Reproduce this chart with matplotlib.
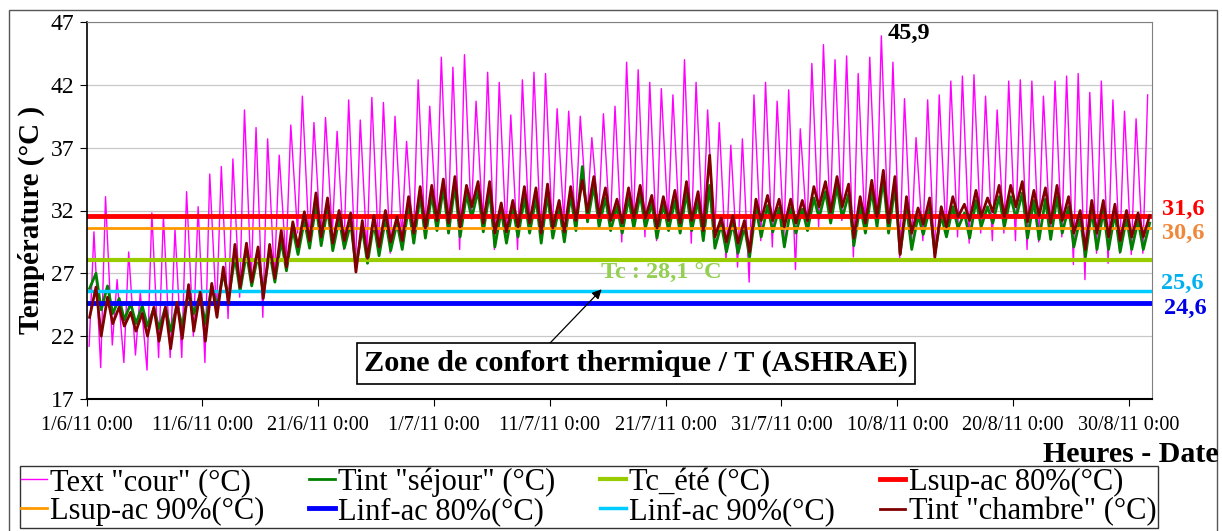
import numpy as np
import matplotlib
matplotlib.use('Agg')
import matplotlib.pyplot as plt
from matplotlib.patches import Rectangle

plt.rcParams['font.family'] = ['Liberation Serif', 'DejaVu Serif']

# daily extremes, one value per day from 1/6/11 to 1/9/11
text_cour_min = [21.2, 19.5, 21.3, 19.9, 20.5, 19.3, 20.3, 20.3, 20.3, 22.0, 19.9, 23.8,
                 23.4, 25.1, 26.5, 23.5, 26.7, 28.0, 30.2, 29.4, 29.6, 30.2, 28.9,
                 27.5, 28.6, 28.9, 28.6, 29.9, 29.4, 30.2, 31.0, 30.2, 28.9, 31.5, 31.0,
                 28.9, 30.2, 28.9, 30.7, 29.9, 30.4, 31.2, 31.0, 31.5, 31.4, 30.4,
                 29.5, 30.7, 29.9, 29.6, 31.0, 30.2, 29.4, 30.2, 29.4, 28.0, 27.5, 26.3,
                 29.6, 29.1, 29.9, 27.3, 30.4, 30.7, 31.2, 31.2, 28.3, 30.7, 31.2,
                 30.7, 28.2, 29.1, 29.6, 28.2, 30.2, 29.9, 29.4, 30.2, 29.6, 30.2, 29.6,
                 28.9, 29.5, 29.9, 29.9, 27.7, 26.5, 28.6, 27.8, 28.6, 28.5, 28.6]
text_cour_max = [30.3, 33.1, 26.5, 28.7, 25.5, 31.8, 31.6, 30.5, 33.5, 32.3, 34.9, 35.5,
                 36.1, 40.0, 38.6, 37.7, 36.4, 38.8, 41.1, 39.0, 39.4, 38.3, 40.8,
                 39.2, 41.0, 40.6, 39.5, 37.5, 42.4, 40.3, 44.2, 43.4, 44.4, 40.7, 43.0,
                 42.2, 39.6, 42.4, 43.0, 42.9, 40.1, 39.9, 39.5, 37.8, 39.7, 40.3,
                 43.8, 43.2, 42.2, 41.7, 41.2, 44.0, 42.2, 40.0, 39.0, 37.2, 37.7, 41.2,
                 42.2, 40.7, 41.6, 38.5, 43.7, 45.2, 44.0, 44.3, 42.9, 44.2, 45.9,
                 43.8, 40.9, 37.8, 40.8, 41.2, 42.3, 42.7, 42.8, 41.1, 40.0, 42.3, 42.4,
                 42.3, 41.1, 42.3, 42.7, 42.9, 41.4, 42.3, 40.8, 39.9, 39.3, 41.2]

sejour_min = [25.8, 24.1, 23.8, 23.3, 23.0, 22.8, 22.6, 22.4, 22.8, 23.8, 23.0, 24.3,
              25.0, 25.6, 26.0, 25.4, 26.3, 27.2, 28.5, 29.0, 29.2, 28.8, 29.0,
              27.5, 27.8, 28.4, 28.8, 28.9, 29.4, 29.8, 30.4, 30.2, 29.9, 31.4, 30.3,
              29.1, 29.4, 29.9, 30.2, 29.4, 29.8, 29.5, 30.4, 31.1, 30.7, 30.4,
              30.2, 30.6, 30.6, 29.8, 30.4, 30.2, 30.4, 29.6, 29.0, 28.7, 28.6, 28.3,
              29.9, 30.3, 29.1, 30.2, 30.4, 31.4, 31.0, 31.4, 29.2, 30.2, 30.7,
              30.2, 28.6, 28.9, 30.1, 28.6, 29.9, 30.6, 29.8, 30.7, 31.0, 30.7, 31.4,
              29.8, 29.7, 29.7, 30.2, 29.1, 28.3, 28.9, 28.9, 28.7, 28.9, 28.9]
sejour_max = [27.0, 26.0, 25.0, 24.6, 24.4, 24.2, 24.3, 24.5, 25.5, 25.3, 26.0, 27.0,
              28.3, 28.6, 28.5, 28.7, 29.6, 30.5, 31.2, 32.5, 32.2, 31.3, 31.0,
              30.6, 31.0, 31.3, 31.0, 32.3, 33.2, 33.3, 33.8, 34.0, 33.3, 33.6, 33.5,
              32.0, 32.2, 33.0, 33.0, 33.3, 32.3, 33.2, 35.5, 34.0, 33.0, 32.3,
              33.0, 33.3, 32.6, 32.5, 32.8, 33.4, 32.8, 34.0, 30.9, 31.0, 30.7, 32.2,
              32.4, 32.2, 32.2, 32.1, 33.0, 33.5, 33.9, 33.3, 32.4, 33.6, 34.5,
              33.9, 32.3, 31.6, 32.2, 31.6, 32.3, 31.8, 32.8, 32.3, 33.1, 33.1, 33.4,
              32.8, 32.9, 33.1, 32.3, 31.4, 32.0, 32.0, 31.8, 31.4, 31.2, 31.0]

chambre_min = [23.5, 22.0, 23.0, 22.8, 22.4, 22.0, 21.6, 21.0, 21.8, 22.4, 21.6, 23.5,
               24.6, 25.9, 26.3, 25.0, 26.6, 27.5, 29.1, 29.6, 29.9, 29.4, 29.6,
               27.1, 28.2, 29.1, 29.5, 29.6, 30.2, 30.6, 31.2, 31.0, 30.7, 32.3, 31.0,
               30.2, 30.3, 30.7, 31.0, 30.2, 30.6, 30.3, 31.2, 31.9, 31.5, 31.2,
               31.0, 31.4, 31.4, 30.6, 31.2, 31.0, 31.2, 30.4, 29.9, 29.5, 29.4, 28.7,
               31.2, 31.2, 30.7, 31.0, 31.2, 32.3, 31.9, 32.3, 29.8, 31.0, 31.5,
               31.0, 28.5, 30.2, 30.9, 28.3, 30.7, 31.5, 31.2, 31.5, 31.9, 31.5, 32.3,
               31.1, 31.6, 31.0, 31.2, 30.2, 28.9, 30.2, 29.9, 29.6, 29.9, 29.9]
chambre_max = [25.9, 25.1, 24.3, 23.9, 23.8, 24.3, 24.3, 24.7, 26.1, 25.5, 26.2, 27.5,
               29.3, 29.4, 29.1, 29.3, 30.4, 31.1, 31.9, 33.4, 33.0, 32.0, 31.8,
               31.2, 31.6, 32.0, 31.5, 33.1, 33.9, 34.0, 34.5, 34.7, 34.0, 34.3, 34.3,
               32.6, 32.8, 33.9, 33.8, 34.1, 32.8, 33.9, 34.4, 34.7, 33.8, 32.9,
               33.8, 34.0, 33.2, 33.1, 33.6, 34.3, 33.5, 36.4, 31.4, 31.6, 31.2, 32.9,
               33.2, 32.9, 32.9, 32.8, 33.9, 34.3, 34.7, 34.1, 33.1, 34.4, 35.2,
               34.7, 33.1, 32.2, 33.0, 32.3, 33.1, 32.5, 33.6, 33.0, 34.0, 34.0, 34.3,
               33.6, 33.8, 34.0, 33.1, 32.0, 32.8, 32.8, 32.5, 32.0, 31.8, 31.6]

# hour of the daily low / high (fraction of a day)
out_hours = (0.21, 0.625)
in_hours = (0.25, 0.8)

# comfort limits (°C)
tc_ete = 28.1
lsup_80 = 31.6
lsup_90 = 30.6
linf_80 = 24.6
linf_90 = 25.6

n_days = 92
tick_days = [0, 10, 20, 30, 40, 50, 60, 70, 80, 90]
tick_labels = ['1/6/11 0:00', '11/6/11 0:00', '21/6/11 0:00', '1/7/11 0:00',
               '11/7/11 0:00', '21/7/11 0:00', '31/7/11 0:00', '10/8/11 0:00',
               '20/8/11 0:00', '30/8/11 0:00']


def zigzag(lows, highs, hours):
    """Low/high points of every day in time order."""
    days = np.arange(len(lows))
    t = np.column_stack((days + hours[0], days + hours[1])).ravel()
    v = np.column_stack((lows, highs)).ravel()
    return t, v


W, H = 1222, 531
fig = plt.figure(figsize=(W / 100, H / 100), dpi=100)
ax = fig.add_axes([86.7 / W, 1 - 399 / H, (1152 - 86.7) / W, (399 - 22) / H])

# outer chart frame
fig.patches.append(Rectangle((9 / W, -0.05), (1217 - 9) / W, 1.05 - 10 / H,
                             transform=fig.transFigure, fill=False,
                             edgecolor='#555555', linewidth=1))

xs = [0, n_days]
t, v = zigzag(text_cour_min, text_cour_max, out_hours)
h_text, = ax.plot(t, v, color='#FF00FF', lw=1.0, label='Text "cour" (°C)')
t, v = zigzag(sejour_min, sejour_max, in_hours)
h_sej, = ax.plot(t, v, color='#008000', lw=2.0, label='Tint "séjour" (°C)')
h_tc, = ax.plot(xs, [tc_ete] * 2, color='#99CC00', lw=3.0, label='Tc_été (°C)')
h_ls80, = ax.plot(xs, [lsup_80] * 2, color='#FF0000', lw=3.5, label='Lsup-ac 80%(°C)')
h_ls90, = ax.plot(xs, [lsup_90] * 2, color='#FF9900', lw=2.0, label='Lsup-ac 90%(°C)')
h_li80, = ax.plot(xs, [linf_80] * 2, color='#0000FF', lw=3.5, label='Linf-ac 80%(°C)')
h_li90, = ax.plot(xs, [linf_90] * 2, color='#00CCFF', lw=2.5, label='Linf-ac 90%(°C)')
t, v = zigzag(chambre_min, chambre_max, in_hours)
h_ch, = ax.plot(t, v, color='#800000', lw=2.0, label='Tint "chambre" (°C)')

ax.set_xlim(0, n_days)
ax.set_ylim(17, 47)
ax.set_yticks(range(17, 48, 5))
ax.set_xticks(tick_days)
ax.set_xticklabels(tick_labels)
ax.tick_params(axis='x', direction='out', length=5, labelsize=14.5, pad=7)
ax.tick_params(axis='y', direction='out', length=5, labelsize=17, pad=4)
ax.yaxis.grid(True, color='#C8C8C8', lw=0.9)
ax.set_axisbelow(True)
for side in ('top', 'right'):
    ax.spines[side].set_color('#808080')
ax.spines['left'].set_linewidth(1.2)
ax.spines['bottom'].set_linewidth(1.5)

fig.text(31 / W, 1 - 220 / H, 'Température (°C )', rotation=90, fontsize=21,
         fontweight='bold', ha='center', va='center')
fig.text(1219 / W, 1 - 455 / H, 'Heures - Date', fontsize=21.5, fontweight='bold',
         ha='right', va='center')

# values of the limits on the right side
bt = ax.get_yaxis_transform()
ax.text(1.029, 32.1, '31,6', transform=bt, color='#FF0000', fontsize=17.5,
        fontweight='bold', ha='center', va='center')
ax.text(1.029, 30.2, '30,6', transform=bt, color='#F0883C', fontsize=17.5,
        fontweight='bold', ha='center', va='center')
ax.text(1.028, 26.2, '25,6', transform=bt, color='#00B0F0', fontsize=17.5,
        fontweight='bold', ha='center', va='center')
ax.text(1.031, 24.2, '24,6', transform=bt, color='#0000E6', fontsize=17.5,
        fontweight='bold', ha='center', va='center')

ax.text(71.05, 46.1, '45,9', fontsize=17.5, fontweight='bold', ha='center',
        va='center', clip_on=False)
ax.text(49.6, 27.02, 'Tc : 28,1 °C', color='#92D050', fontsize=17.5,
        fontweight='bold', ha='center', va='center')

ax.annotate('', xy=(44.47, 25.73), xytext=(39.49, 20.95),
            arrowprops=dict(arrowstyle='-|>', color='black', lw=0.9,
                            mutation_scale=14, shrinkA=0, shrinkB=0))
ax.text(47.43, 19.82, 'Zone de confort thermique / T (ASHRAE)', fontsize=21.8,
        fontweight='bold', ha='center', va='center',
        bbox=dict(boxstyle='square,pad=0.22', facecolor='white',
                  edgecolor='black', linewidth=1.2))

handles = [h_text, h_ls90, h_sej, h_li80, h_tc, h_li90, h_ls80, h_ch]
leg = fig.legend(handles=handles, labels=[h.get_label() for h in handles],
                 ncol=4, mode='expand', loc='upper left',
                 bbox_to_anchor=(19.6 / W, 0.0, (1157.7 - 19.6) / W, 1 - 466 / H),
                 borderaxespad=0, fontsize=22, handlelength=0.85,
                 handletextpad=0.1, labelspacing=0.0, borderpad=0.05,
                 columnspacing=0.5, frameon=True, fancybox=False, framealpha=1)
leg.get_frame().set_edgecolor('#333333')
leg.get_frame().set_linewidth(1.0)

fig.savefig('out.png', dpi=100)
